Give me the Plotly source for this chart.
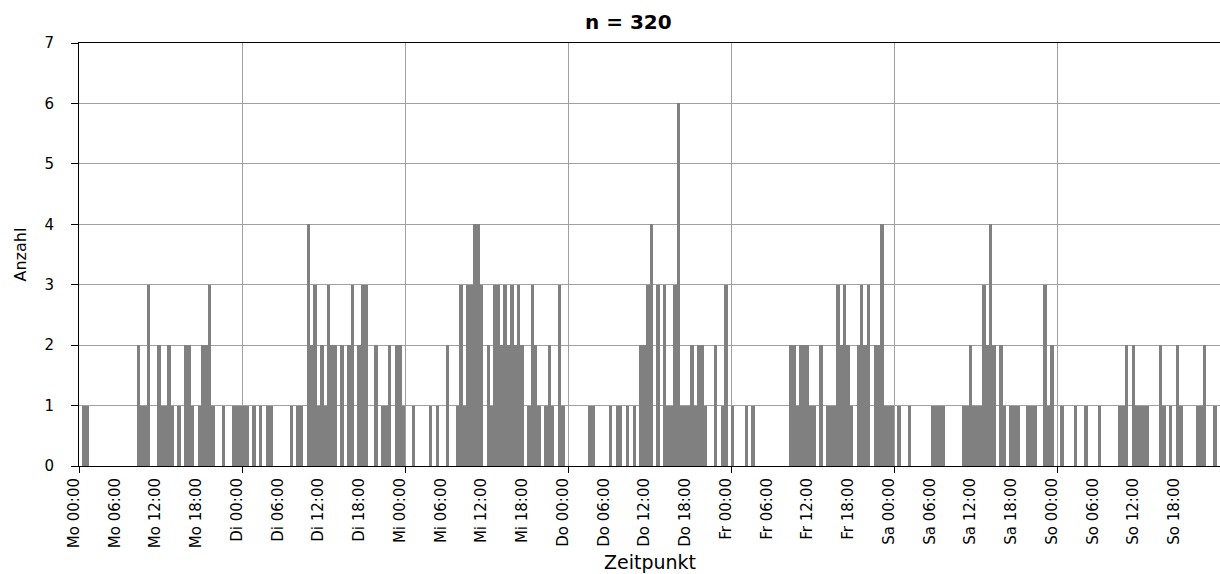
import plotly.graph_objects as go

# counts per 30-minute interval, 48 per day
mo = [0,1,1,0,0,0,0,0,0,0,0,0,0,0,0,0,0,2,1,1,3,0,0,2,1,1,2,1,0,1,0,2,2,1,0,1,2,2,3,1,0,0,1,0,0,1,1,1]
di = [1,1,0,1,0,1,0,1,1,0,0,0,0,0,1,0,1,1,0,4,2,3,1,2,1,3,2,2,0,2,0,2,3,0,2,3,3,0,0,2,0,1,1,2,0,2,2,1]
mi = [0,0,1,0,0,0,0,1,0,1,0,0,2,0,0,1,3,1,3,3,4,4,3,0,2,1,3,3,2,3,2,3,2,3,2,0,1,3,2,1,0,1,2,1,0,3,1,0]
do_ = [0,0,0,0,0,0,1,1,0,0,0,0,1,0,1,1,0,1,0,1,0,2,2,3,4,0,3,0,3,1,1,3,6,1,1,1,2,1,2,2,1,0,0,2,0,1,3,0]
fr = [1,0,0,0,1,0,1,0,0,0,0,0,0,0,0,0,0,2,2,1,2,2,2,1,1,0,2,0,1,1,1,3,2,3,2,1,0,2,3,2,3,0,2,2,4,1,1,1]
sa = [0,1,0,0,1,0,0,0,0,0,0,1,1,1,1,0,0,0,0,0,1,1,2,1,1,1,3,2,4,2,0,2,1,0,1,1,1,0,0,1,1,1,0,0,3,1,2,0]
so = [0,1,0,0,0,1,0,0,1,0,0,0,1,0,0,0,0,0,1,1,2,0,2,1,1,1,1,0,0,0,2,1,0,1,0,2,1,0,0,0,0,1,1,2,0,0,1,0]

days = ["Mo", "Di", "Mi", "Do", "Fr", "Sa", "So"]
hours = ["00:00", "06:00", "12:00", "18:00"]
bins_per_day = 48
bins_per_label = 12
label_shift = -1.5  # labels sit slightly left of their tick, as in the original

counts = mo + di + mi + do_ + fr + sa + so
n_bins = len(counts)
x_centers = [i + 0.5 for i in range(n_bins)]

label_pos = [i * bins_per_label + label_shift for i in range(len(days) * len(hours))]
label_txt = [f"{d} {h}" for d in days for h in hours]
day_pos = [i * bins_per_day for i in range(len(days) + 1)]

FONT = "DejaVu Sans"
W, H = 1220, 574
ML, MR, MT, MB = 69, 0, 43, 108
PAD = 10  # extra room left of the y axis for the label axis
plot_w = W - ML - MR
d0 = PAD / plot_w
px_per_bin = (plot_w - PAD) / n_bins

fig = go.Figure()
fig.add_trace(go.Bar(
    x=x_centers, y=counts, width=1,
    marker=dict(color="#808080", line=dict(width=0)),
    showlegend=False, hoverinfo="x+y",
))
# helper trace so the label axis is drawn
fig.add_trace(go.Scatter(
    x=[0], y=[0], xaxis="x2", yaxis="y2", mode="markers",
    marker=dict(opacity=0), showlegend=False, hoverinfo="skip",
))

fig.update_layout(
    width=W, height=H,
    margin=dict(l=ML, r=MR, t=MT, b=MB),
    paper_bgcolor="white", plot_bgcolor="rgba(0,0,0,0)",
    bargap=0,
    font=dict(family=FONT, color="black", size=15),
    title=dict(text="<b>n = 320</b>", x=0.515, xanchor="center", y=0.962, yanchor="middle",
               font=dict(family=FONT, size=20, color="black")),
    xaxis=dict(
        domain=[d0, 1], anchor="y",
        range=[0, n_bins], tickmode="array", tickvals=day_pos,
        ticktext=["" for _ in day_pos], ticks="outside", ticklen=6, tickcolor="black",
        showgrid=True, gridcolor="#a0a0a0", gridwidth=1, automargin=False,
        showline=True, linecolor="black", linewidth=1, mirror=True, zeroline=False,
    ),
    xaxis2=dict(
        domain=[0, 1], anchor="y2", side="bottom", automargin=False,
        range=[-PAD / px_per_bin, n_bins], tickmode="array", tickvals=label_pos, ticktext=label_txt,
        tickangle=-90, ticks="", showgrid=False, showline=False, zeroline=False,
        tickfont=dict(family=FONT, size=15, color="black"), ticklabelstandoff=8,
    ),
    yaxis=dict(
        domain=[0, 1], anchor="x",
        range=[0, 7], dtick=1, tick0=0, automargin=False,
        ticks="outside", ticklen=7, tickcolor="black",
        showgrid=True, gridcolor="#a0a0a0", gridwidth=1,
        showline=True, linecolor="black", linewidth=1, mirror=True, zeroline=False,
        tickfont=dict(family=FONT, size=15, color="black"),
        ticklabelstandoff=14,
    ),
    yaxis2=dict(domain=[0, 1], anchor="x2", range=[0, 7], visible=False, showgrid=False),
    annotations=[
        dict(text="Zeitpunkt", xref="paper", yref="paper", x=(650 - ML) / plot_w, y=-0.227,
             xanchor="center", yanchor="middle", showarrow=False,
             font=dict(family=FONT, size=19, color="black")),
        dict(text="Anzahl", xref="paper", yref="paper", x=(20 - ML) / plot_w, y=0.5,
             xanchor="center", yanchor="middle", showarrow=False, textangle=-90,
             font=dict(family=FONT, size=16, color="black")),
    ],
)

fig.write_html(
    "out.html",
    config={"displayModeBar": False},
    post_script="document.body.style.margin='0';document.body.style.overflow='hidden';",
)
